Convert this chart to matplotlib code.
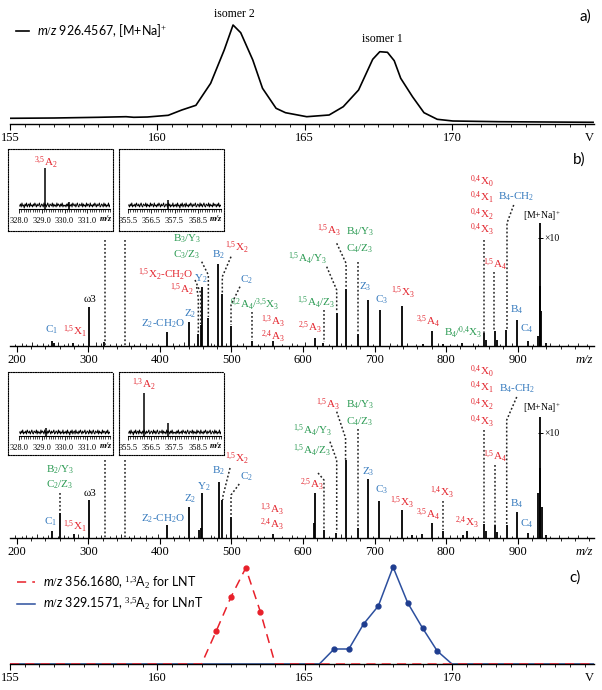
import numpy as np
import matplotlib
matplotlib.use("Agg")
import matplotlib.pyplot as plt
from matplotlib.ticker import MultipleLocator, FixedLocator

# ---- data ----
# a) total ion trace of m/z 926.4567 vs collision voltage
a_volt = [155, 156.5, 158.0, 158.94, 159.2, 159.66, 160.37, 160.83, 161.31, 161.81, 162.27, 162.57,
          162.83, 163.24, 163.57, 164.03, 164.35, 165.07, 165.83, 166.31, 166.83, 167.31, 167.55,
          167.81, 168.04, 168.26, 168.66, 169.05, 169.5, 170.03, 171.6, 174.79]
a_int = [5.7, 6.0, 6.7, 7.3, 6.7, 7.0, 8.7, 14.0, 18.7, 40.7, 74.0, 99.0, 91.3, 64.0, 35.7, 15.7,
         11.3, 7.3, 9.0, 17.3, 34.0, 64.7, 72.3, 71.7, 63.3, 45.7, 27.3, 11.3, 4.7, 3.0, 2.3, 1.7]

# c) fragment traces
c_red_v = [155, 161.5, 162.0, 162.5, 163.0, 163.5, 164.0, 174.8]
c_red_i = [0, 0, 33, 67, 96, 52, 0, 0]
c_blue_v = [155, 165.5, 166.0, 166.5, 167.0, 167.5, 168.0, 168.5, 169.0, 169.5, 170.0, 174.8]
c_blue_i = [0, 0, 15, 15, 40, 58, 97, 61, 36, 13, 0, 0]

# b) upper spectrum (isomer 1)
top_mz = [248.8, 252.0, 278.6, 301.4, 321.9, 410.3, 440.7, 453.7, 457.0, 459.3, 467.7, 481.6, 487.2,
          499.4, 529.1, 558.5, 616.8, 628.4, 647.1, 660.2, 676.5, 691.3, 707.6, 737.9, 767.3, 779.9,
          796.1, 822.7, 853.4, 856.0, 868.8, 871.0, 884.4, 899.1, 914.5, 929.1, 930.6, 931.7, 933.3, 939.6]
top_int = [5, 3, 3, 38.7, 4, 14, 24, 12, 21, 59, 28, 82, 52.5, 20.5, 5, 5, 8, 3, 33.5, 57, 12, 45.7,
           36, 40, 2, 15, 2, 3, 13, 6, 14.7, 6, 16, 26, 5, 10, 60, 122.7, 35, 3]

# b) lower spectrum (isomer 2)
bot_mz = [249.6, 260.4, 280.0, 301.4, 410.3, 440.7, 454.5, 457.0, 459.3, 482.6, 487.2, 498.9, 557.6,
          615.3, 616.8, 629.3, 646.2, 659.7, 676.5, 691.3, 706.7, 737.9, 752.0, 766.0, 779.9, 796.1,
          823.5, 828.9, 853.4, 856.0, 868.5, 871.0, 884.7, 898.7, 915.0, 929.1, 930.6, 931.3, 933.6, 940.0]
bot_int = [7, 25.3, 4.3, 38.3, 12.7, 31, 8, 10, 45, 56, 37.7, 21, 4, 15, 45, 7.7, 5, 77.7, 10.4, 59.4,
           37, 27.7, 3, 4, 15.4, 7, 3, 7, 14.3, 7, 12.7, 6, 12.7, 26, 5, 45, 70, 121, 31, 3]

# baseline grass of both spectra
grass_mz = [198, 207, 213, 221, 228, 236, 243, 257, 266, 272, 286, 293, 311, 318, 330, 338, 346, 357,
            364, 372, 381, 389, 397, 418, 426, 433, 448, 471, 476, 492, 508, 516, 537, 546, 571, 584,
            592, 603, 637, 653, 667, 698, 722, 731, 745, 758, 788, 806, 815, 838, 845, 876, 892, 922,
            945, 958, 971, 984, 997]
grass_top = [2, 3, 2, 4, 2, 3, 2, 4, 2, 3, 2, 3, 4, 3, 2, 3, 2, 4, 2, 3, 2, 3, 2, 3, 2, 4, 3, 3, 2, 3,
             2, 3, 2, 3, 2, 3, 2, 4, 2, 3, 2, 2, 3, 2, 3, 2, 3, 2, 2, 3, 2, 2, 3, 2, 3, 2, 2, 3, 2]
grass_bot = [3, 2, 3, 2, 4, 2, 3, 2, 3, 2, 4, 2, 2, 3, 2, 3, 4, 2, 3, 2, 3, 2, 4, 2, 3, 2, 2, 3, 2, 4,
             3, 2, 3, 2, 2, 3, 2, 3, 2, 4, 3, 2, 3, 2, 2, 3, 2, 3, 3, 2, 2, 3, 2, 3, 2, 3, 2, 3, 2]

# fragment labels ("{,}" keeps mathtext from padding the comma)
top_lab_txt = ["C$_1$", "${}^{1{,}5}$X$_1$", "ω3", "Z$_2$-CH$_2$O", "Z$_2$", "${}^{1{,}5}$A$_2$",
               "${}^{1{,}5}$X$_2$-CH$_2$O", "Y$_2$", "B$_3$/Y$_3$", "C$_3$/Z$_3$", "B$_2$",
               "${}^{1{,}5}$X$_2$", "C$_2$", "${}^{0{,}2}$A$_4$/${}^{3{,}5}$X$_3$", "${}^{1{,}3}$A$_3$",
               "${}^{2{,}4}$A$_3$", "${}^{2{,}5}$A$_3$", "${}^{1{,}5}$A$_4$/Z$_3$",
               "${}^{1{,}5}$A$_4$/Y$_3$", "${}^{1{,}5}$A$_3$", "B$_4$/Y$_3$", "C$_4$/Z$_3$", "Z$_3$",
               "C$_3$", "${}^{1{,}5}$X$_3$", "${}^{3{,}5}$A$_4$", "B$_4$/${}^{0{,}4}$X$_3$",
               "${}^{0{,}4}$X$_0$", "${}^{0{,}4}$X$_1$", "${}^{0{,}4}$X$_2$", "${}^{0{,}4}$X$_3$",
               "B$_4$-CH$_2$", "${}^{1{,}5}$A$_4$", "B$_4$", "C$_4$"]
top_lab_mz = [248.8, 281.3, 302.4, 404.7, 442.1, 430.5, 407.5, 457.5, 437.5, 437.5, 481.6, 507.3, 521.3,
              532.9, 558.5, 558.5, 609.8, 618.0, 607.0, 636.4, 679.7, 679.7, 686.6, 710.0, 740.2, 775.2,
              824.1, 850.2, 850.2, 850.2, 850.2, 897.7, 868.8, 899.1, 912.7]
top_lab_y = [16, 14.3, 46, 22.7, 32.7, 56, 71, 67.7, 107, 91, 91, 97.7, 66, 41, 24.3, 9.3, 17.7, 43, 87,
             115, 114.3, 97.7, 59.3, 46, 52.7, 24.3, 12.7, 164.3, 147.7, 131, 116, 149.3, 81, 36, 17.7]
top_lab_col = list("brkbbrrbggbrbgrrrggrggbbrrgrrrrbrbb")

bot_lab_txt = ["B$_2$/Y$_3$", "C$_2$/Z$_3$", "ω3", "C$_1$", "${}^{1{,}5}$X$_1$", "Z$_2$-CH$_2$O", "Z$_2$",
               "Y$_2$", "B$_2$", "${}^{1{,}5}$X$_2$", "C$_2$", "${}^{1{,}3}$A$_3$", "${}^{2{,}4}$A$_3$",
               "${}^{2{,}5}$A$_3$", "${}^{1{,}5}$A$_4$/Z$_3$", "${}^{1{,}5}$A$_4$/Y$_3$",
               "${}^{1{,}5}$A$_3$", "B$_4$/Y$_3$", "C$_4$/Z$_3$", "Z$_3$", "C$_3$", "${}^{1{,}5}$X$_3$",
               "${}^{1{,}4}$X$_3$", "${}^{3{,}5}$A$_4$", "${}^{2{,}4}$X$_3$", "${}^{0{,}4}$X$_0$",
               "${}^{0{,}4}$X$_1$", "${}^{0{,}4}$X$_2$", "${}^{0{,}4}$X$_3$", "B$_4$-CH$_2$",
               "${}^{1{,}5}$A$_4$", "B$_4$", "C$_4$"]
bot_lab_mz = [260.4, 260.4, 302.4, 247.4, 281.3, 404.7, 442.1, 460.7, 481.6, 507.3, 521.3, 556.2, 556.2,
              612.2, 612.9, 612.9, 635.4, 679.7, 679.7, 691.3, 710.0, 737.9, 793.9, 775.2, 828.9, 850.2,
              850.2, 850.2, 850.2, 898.7, 868.5, 898.7, 912.7]
bot_lab_y = [68, 53, 44.7, 16.3, 11.3, 19.7, 39.7, 51.3, 67, 78.7, 61.3, 28, 13, 53, 87, 107, 133, 133,
             116.3, 66.3, 48, 34.7, 44.7, 23, 14.7, 166.3, 149.7, 133, 116.3, 149.7, 81.3, 34.7, 14.7]
bot_lab_col = list("ggkbrbbbbrbrrrggrggbbrrrrrrrrbrbb")

# dotted leader lines (m/z, intensity)
top_lead_mz = [[323.7, 323.7], [351.2, 351.2], [458.4, 467.7, 467.7], [449.1, 457.0, 457.0],
               [451.4, 453.7, 453.7], [499.4, 487.2, 487.2], [511.9, 499.4, 499.4], [529.1, 529.1],
               [633.1, 647.1, 647.1], [629.3, 629.3], [647.1, 660.2, 660.2], [676.5, 676.5],
               [852.6, 852.6], [867.4, 867.4], [894.5, 885.1, 885.1]]
top_lead_y = [[106, 0], [106, 0], [84.3, 71, 29], [66, 53, 22], [59, 48, 13], [89.3, 69.3, 53],
              [59.3, 41, 21], [34, 6], [79.3, 56, 34], [36, 4], [102.7, 82.7, 58], [84.3, 13],
              [106, 13], [74, 15], [141, 123, 16]]
bot_lead_mz = [[323.7, 323.7], [351.2, 351.2], [260.4, 260.4], [498.0, 487.8, 487.8],
               [510.9, 499.4, 499.4], [637.7, 647.1, 647.1], [621.0, 629.3, 629.3],
               [647.1, 659.5, 659.5], [676.5, 676.5], [796.1, 796.1], [853.4, 853.4],
               [868.5, 868.5], [898.7, 884.7, 884.7]]
bot_lead_y = [[78, 0], [78, 0], [45, 26], [70, 41, 38], [54, 43, 21.3], [96.3, 78, 6], [65, 58, 8],
              [126.3, 100, 78], [109, 11], [37, 8], [108, 15], [73, 13], [141, 118, 13]]

# zoomed insets
noise_1 = [3, 5, 2, 6, 3, 4, 1, 5, 3, 6, 2, 4, 5, 2, 6, 3, 4, 2, 5, 3, 6, 4, 2, 5, 3, 4, 6, 2, 3, 5,
           4, 2, 6, 3, 5, 2, 4, 6, 3, 2, 5, 4, 3, 6, 2, 5, 3, 4, 2, 6, 3, 5, 4, 2, 5, 3, 6, 2, 4, 3]
noise_2 = [4, 2, 5, 3, 6, 2, 4, 3, 5, 2, 6, 4, 3, 5, 2, 4, 6, 3, 2, 5, 4, 3, 6, 2, 5, 3, 4, 2, 6, 3,
           5, 4, 2, 6, 3, 4, 2, 5, 3, 6, 4, 2, 5, 3, 4, 6, 2, 3, 5, 4, 2, 6, 3, 5, 2, 4, 3, 6, 2, 4]
in_tl_mz, in_tl_int = [329.157, 330.2], [41.3, 7]
in_tr_mz, in_tr_int = [357.2], [9]
in_bl_mz, in_bl_int = [329.2], [8]
in_br_mz, in_br_int = [356.168, 357.2], [42.7, 13]

# ---- styling ----
plt.rcParams["font.family"] = "Liberation Serif"
plt.rcParams["mathtext.fontset"] = "custom"
plt.rcParams["mathtext.rm"] = "Liberation Serif"
plt.rcParams["mathtext.it"] = "Lato:italic"
plt.rcParams["mathtext.bf"] = "Liberation Serif:bold"
plt.rcParams["mathtext.default"] = "rm"

COL = {"r": "#e3262f", "b": "#3479bd", "g": "#2a9a52", "k": "black"}
W, H = 602, 690
fig = plt.figure(figsize=(W / 100, H / 100), dpi=100)


def px_axes(l, r, bottom, height):
    # place an axes by pixel edges (bottom measured from the top of the picture)
    ax = fig.add_axes([l / W, 1 - bottom / H, (r - l) / W, height / H])
    ax.patch.set_visible(False)
    return ax


def bare_x(ax):
    for s in ["left", "top", "right"]:
        ax.spines[s].set_visible(False)
    ax.set_yticks([])
    ax.spines["bottom"].set_linewidth(1.0)


def end_label(ax, x, txt, size=9, **kw):
    ax.annotate(txt, xy=(x, 0), xycoords=("data", "axes fraction"), xytext=(0, -5.5),
                textcoords="offset points", ha="center", va="top", fontsize=size, **kw)


def volt_axis(ax):
    bare_x(ax)
    ax.set_xlim(155, 174.82)
    ax.xaxis.set_major_locator(FixedLocator([155, 160, 165, 170]))
    ax.xaxis.set_minor_locator(MultipleLocator(0.5))
    ax.tick_params(axis="x", which="major", length=4, width=0.8, pad=2, labelsize=9)
    ax.tick_params(axis="x", which="minor", length=2.5, width=0.6)
    end_label(ax, 174.65, "V")


# ---- a) ----
ax_a = px_axes(10, 594, 124, 115)
volt_axis(ax_a)
ax_a.set_ylim(0, 115)
la, = ax_a.plot(a_volt, a_int, color="black", lw=1.2,
                label="$\\mathit{m/z}$ 926.4567, [M+Na]$^{+}$")
ax_a.text(162.6, 110, "isomer 2", ha="center", va="center", fontsize=8.5)
ax_a.text(167.65, 85, "isomer 1", ha="center", va="center", fontsize=8.5)
ax_a.legend(handles=[la], loc="upper left", bbox_to_anchor=(0.0103, 0.883), frameon=False,
            borderpad=0, borderaxespad=0, handlelength=1.0, handletextpad=0.7,
            prop={"family": "Lato", "size": 9})
fig.text(585 / W, 1 - 17 / H, "a)", family="Lato", fontsize=11, ha="center", va="center")


# ---- b) spectra ----
def spectrum(bottom, height, mz, inten, grass, lab_txt, lab_mz, lab_y, lab_col, lead_mz, lead_y,
             mna_y, x10_y):
    ax = px_axes(10, 594, bottom, height)
    bare_x(ax)
    ax.set_xlim(190.5, 1006.7)
    ax.set_ylim(0, height)
    ax.xaxis.set_major_locator(FixedLocator([200, 300, 400, 500, 600, 700, 800, 900]))
    ax.xaxis.set_minor_locator(MultipleLocator(20))
    ax.tick_params(axis="x", which="major", length=4, width=0.8, pad=2, labelsize=9)
    ax.tick_params(axis="x", which="minor", length=2.5, width=0.6)
    end_label(ax, 992.8, "m/z", style="italic")
    ax.vlines(grass_mz, 0, grass, color="black", lw=0.6)
    ax.vlines(mz, 0, inten, color="black", lw=1.3)
    for xs, ys in zip(lead_mz, lead_y):
        ax.plot(xs, ys, color="#222222", lw=1.1, ls=(0, (1.2, 1.4)))
    for t, x, y, c in zip(lab_txt, lab_mz, lab_y, lab_col):
        ax.text(x, y, t, color=COL[c], ha="center", va="center", fontsize=8)
    ax.text(934.0, mna_y, "[M+Na]$^{+}$", ha="center", va="center", fontsize=7)
    ax.hlines(x10_y, 928.5, 935, color="black", lw=0.7)
    ax.text(936.5, x10_y, "×10", ha="left", va="center", fontsize=7)
    return ax


spectrum(346, 200, top_mz, top_int, grass_top, top_lab_txt, top_lab_mz, top_lab_y, top_lab_col,
         top_lead_mz, top_lead_y, 130, 107.7)
spectrum(538, 185, bot_mz, bot_int, grass_bot, bot_lab_txt, bot_lab_mz, bot_lab_y, bot_lab_col,
         bot_lead_mz, bot_lead_y, 129.7, 104.7)
fig.text(579 / W, 1 - 160 / H, "b)", family="Lato", fontsize=11, ha="center", va="center")


# ---- insets ----
def inset(box_l, box_r, box_bottom, box_h, l, r, bottom, lo, hi, ticks, mz, inten, noise,
          lab=None, lab_y=None):
    box = px_axes(box_l, box_r, box_bottom, box_h)
    box.set_xticks([])
    box.set_yticks([])
    for s in box.spines.values():
        s.set_linestyle((0, (1, 1.2)))
        s.set_linewidth(0.8)
    ax = px_axes(l, r, bottom, 49)
    bare_x(ax)
    ax.spines["bottom"].set_linewidth(0.8)
    ax.set_xlim(lo, hi)
    ax.set_ylim(0, 49)
    ax.xaxis.set_major_locator(FixedLocator(ticks))
    ax.xaxis.set_minor_locator(MultipleLocator(0.1))
    ax.set_xticklabels([f"{t:.1f}" for t in ticks])
    ax.tick_params(axis="x", which="major", length=3, width=0.6, pad=2.5, labelsize=6)
    ax.tick_params(axis="x", which="minor", length=2, width=0.5)
    xs = np.linspace(lo + 0.03, hi, len(noise))
    ax.plot(xs, noise, color="black", lw=0.7)
    ax.vlines(mz, 0, inten, color="black", lw=1.1)
    ax.annotate("m/z", xy=(hi - 0.2, 0), xycoords=("data", "axes fraction"), xytext=(0, -4.5),
                textcoords="offset points", ha="center", va="top", fontsize=6,
                style="italic", weight="bold")
    if lab:
        ax.text(mz[0], lab_y, lab, color=COL["r"], ha="center", va="center", fontsize=8)


noise_ab = noise_1 + noise_2
noise_ba = noise_2 + noise_1
inset(8.3, 113.3, 230.7, 81.4, 19, 110, 209, 328.0, 332.0, [328, 329, 330, 331],
      in_tl_mz, in_tl_int, noise_ab, "${}^{3{,}5}$A$_2$", 46)
inset(119, 224.3, 230.7, 81.4, 128, 221, 209, 355.5, 359.5, [355.5, 356.5, 357.5, 358.5],
      in_tr_mz, in_tr_int, noise_ba)
inset(8.3, 113.3, 455, 83.3, 19, 110, 436, 328.0, 332.0, [328, 329, 330, 331],
      in_bl_mz, in_bl_int, noise_ba)
inset(119, 224.3, 455, 83.3, 128, 221, 436, 355.5, 359.5, [355.5, 356.5, 357.5, 358.5],
      in_br_mz, in_br_int, noise_ab, "${}^{1{,}3}$A$_2$", 51)

# ---- c) ----
ax_c = px_axes(10, 594, 664, 110)
volt_axis(ax_c)
ax_c.set_ylim(0, 110)
red = "#e8202a"
blue = "#2c4f9e"
lb, = ax_c.plot(c_blue_v, c_blue_i, color=blue, lw=1.1, zorder=2,
                label="$\\mathit{m/z}$ 329.1571, $^{3{,}5}$A$_{2}$ for LN$\\mathit{n}$T")
lr, = ax_c.plot(c_red_v, c_red_i, color=red, lw=1.1, ls=(0, (6, 4)), zorder=3,
                label="$\\mathit{m/z}$ 356.1680, $^{1{,}3}$A$_{2}$ for LNT")
rv = [v for v, i in zip(c_red_v, c_red_i) if i > 0]
ri = [i for i in c_red_i if i > 0]
bv = [v for v, i in zip(c_blue_v, c_blue_i) if i > 0]
bi = [i for i in c_blue_i if i > 0]
ax_c.plot(rv, ri, "o", color=red, ms=3.5, zorder=4)
ax_c.plot(bv, bi, "o", color="#1f3d8f", ms=3.5, zorder=4)
ax_c.legend(handles=[lr, lb], loc="upper left", bbox_to_anchor=(0.012, 0.814), frameon=False,
            borderpad=0, borderaxespad=0, handlelength=1.45, handletextpad=0.65,
            labelspacing=0.45, prop={"family": "Lato", "size": 9})
fig.text(575 / W, 1 - 578 / H, "c)", family="Lato", fontsize=11, ha="center", va="center")

fig.savefig("out.png", dpi=100)
